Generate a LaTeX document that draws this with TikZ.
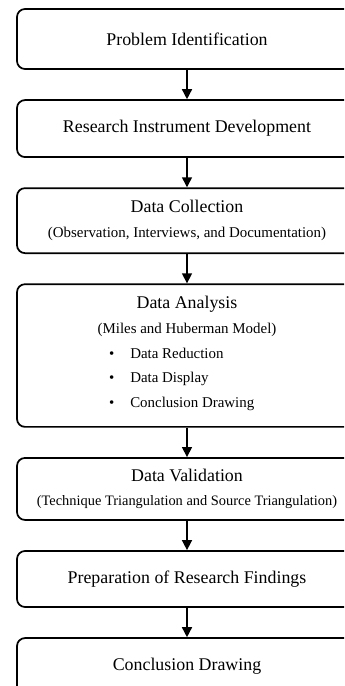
\documentclass[tikz,border=0pt]{standalone}
\usepackage{fontspec}
\setmainfont{Liberation Serif}
\usetikzlibrary{positioning, arrows.meta}
\newcommand{\titlefont}{\fontsize{13.4}{18.4}\selectfont}
\newcommand{\subfont}{\fontsize{11.2}{18.4}\selectfont}
\tikzset{
  stepbox/.style={draw, line width=1.3pt, rounded corners=6pt, minimum width=255pt,
    minimum height=44pt, align=center, inner sep=2pt, font=\titlefont},
  flowarr/.style={-{Triangle[width=7.5pt,length=7.5pt]}, line width=1.1pt},
}

\begin{document}
\begin{tikzpicture}[x=0.75pt, y=-0.75pt, node distance=22pt]
  \useasboundingbox (0,0) rectangle (344,686);
  \clip (0,0) rectangle (344,686);
  \node[stepbox, minimum height=45pt] (prob) at (187,39) {Problem Identification};
  \node[stepbox, minimum height=42.75pt, below=of prob] (instr) {Research Instrument Development};
  \node[stepbox, minimum height=48.75pt, below=of instr] (coll) {Data Collection\\
    {\subfont (Observation, Interviews, and Documentation)}};
  \node[stepbox, minimum height=107pt, below=of coll] (anal) {Data Analysis\\
    {\subfont (Miles and Huberman Model)}\\
    {\subfont\begin{tabular}[t]{@{}l@{\hspace{8pt}}}
      \textbullet\hspace{12pt}Data Reduction\\
      \textbullet\hspace{12pt}Data Display\\
      \textbullet\hspace{12pt}Conclusion Drawing
    \end{tabular}}};
  \node[stepbox, minimum height=46.5pt, below=of anal] (valid) {Data Validation\\
    {\fontsize{10.8}{18.4}\selectfont (Technique Triangulation and Source Triangulation)}};
  \node[stepbox, minimum height=42pt, below=of valid] (prep) {Preparation of Research Findings};
  \node[stepbox, minimum height=42pt, below=of prep] (concl) {Conclusion Drawing};
  % arrows between the steps
  \draw[flowarr] (prob) -- (instr);
  \draw[flowarr] (instr) -- (coll);
  \draw[flowarr] (coll) -- (anal);
  \draw[flowarr] (anal) -- (valid);
  \draw[flowarr] (valid) -- (prep);
  \draw[flowarr] (prep) -- (concl);
\end{tikzpicture}
\end{document}
